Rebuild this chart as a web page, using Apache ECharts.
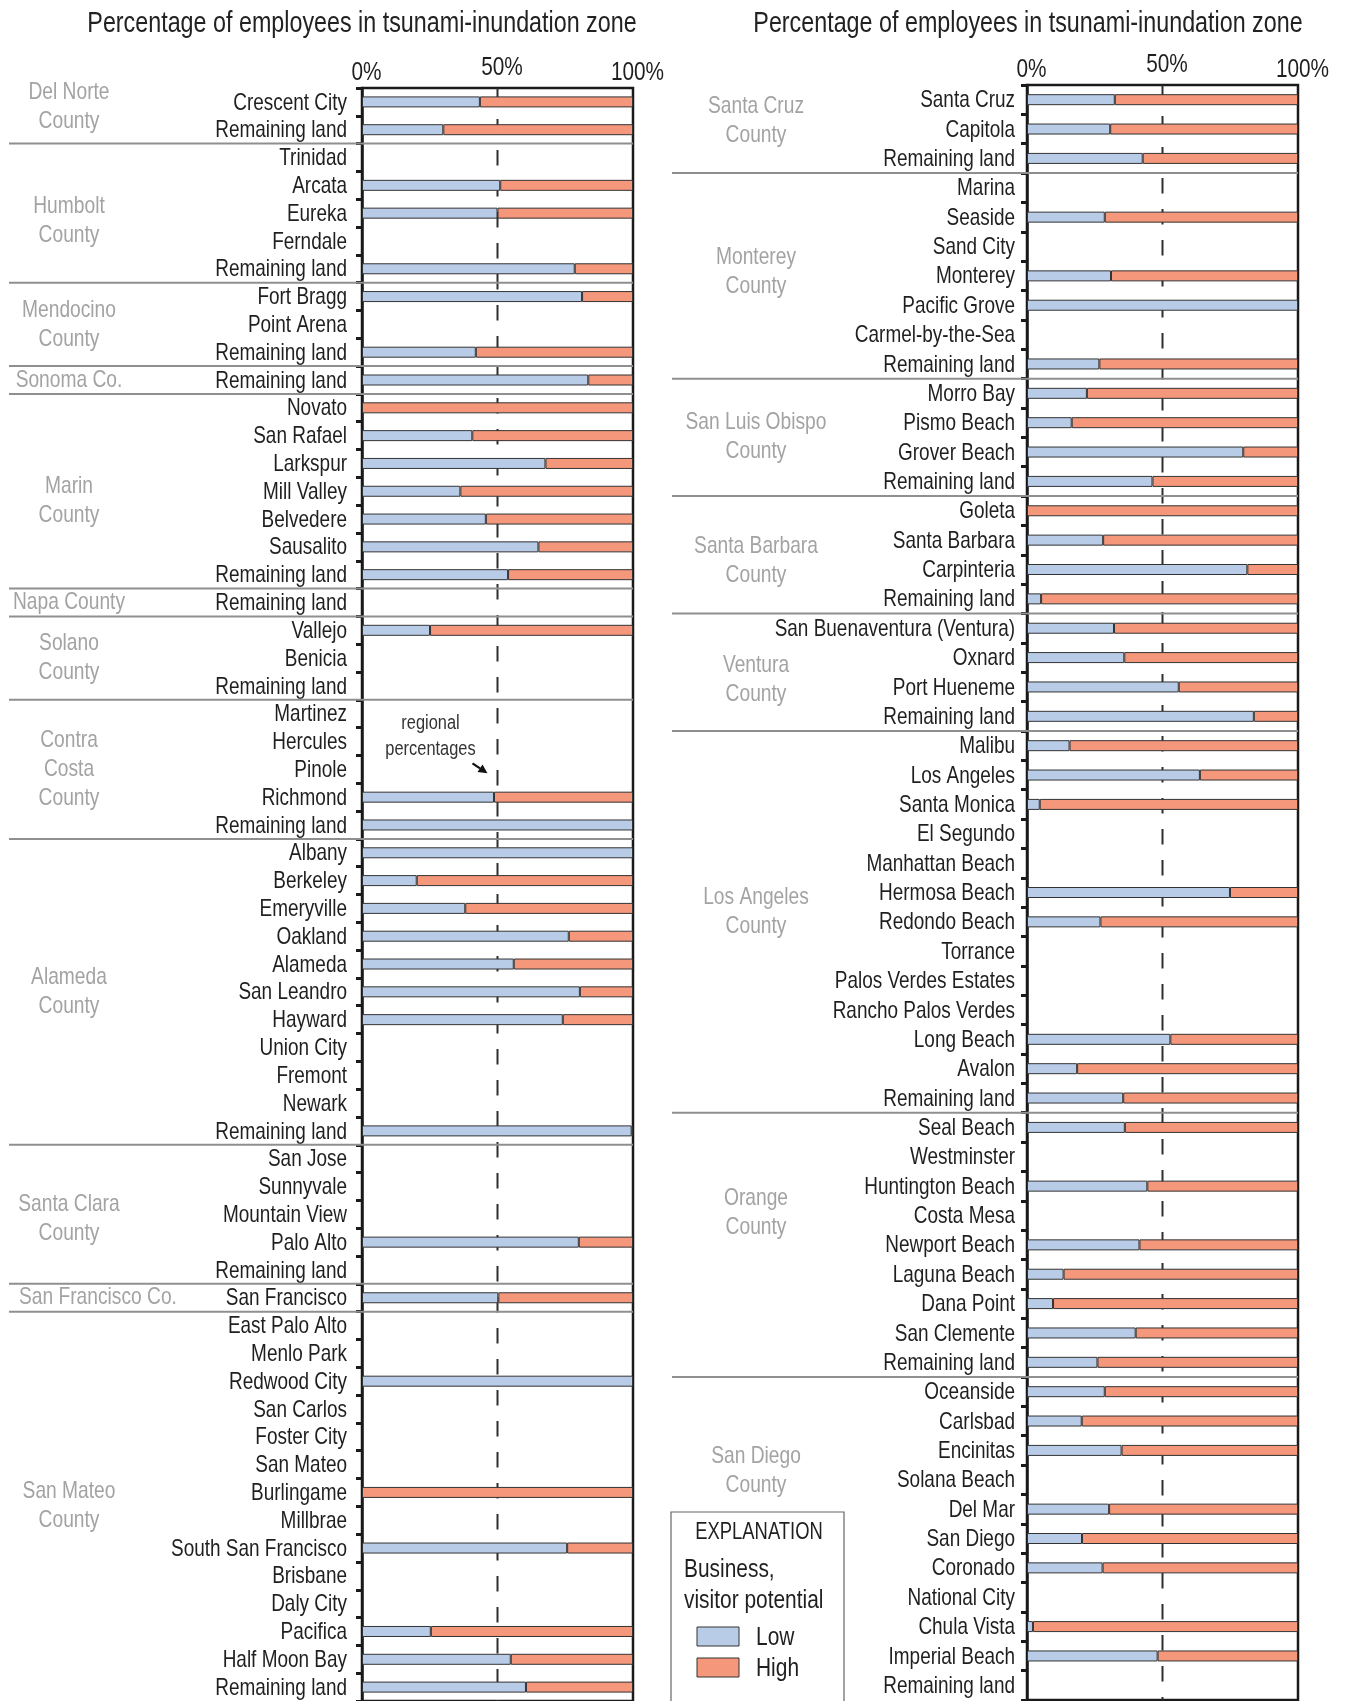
<!DOCTYPE html>
<html>
<head>
<meta charset="utf-8">
<title>Percentage of employees in tsunami-inundation zone</title>
<script src="https://cdn.jsdelivr.net/npm/echarts@6/dist/echarts.min.js"></script>
<style>
  html, body { margin: 0; padding: 0; background: #ffffff; }
  #chart { width: 1347px; height: 1701px; }
</style>
</head>
<body>
<div id="chart"></div>
<script>
// ---------- data: northern coast (Del Norte to San Mateo) ----------
const northCounties = ['Del Norte\nCounty', 'Humbolt\nCounty', 'Mendocino\nCounty', 'Sonoma Co.', 'Marin\nCounty',
  'Napa County', 'Solano\nCounty', 'Contra\nCosta\nCounty', 'Alameda\nCounty', 'Santa Clara\nCounty',
  'San Francisco Co.', 'San Mateo\nCounty'];
const northCountySizes = [2, 5, 3, 1, 7, 1, 3, 5, 11, 5, 1, 14];
const northPlaces = ['Crescent City', 'Remaining land', 'Trinidad', 'Arcata', 'Eureka', 'Ferndale', 'Remaining land',
  'Fort Bragg', 'Point Arena', 'Remaining land', 'Remaining land', 'Novato', 'San Rafael', 'Larkspur', 'Mill Valley',
  'Belvedere', 'Sausalito', 'Remaining land', 'Remaining land', 'Vallejo', 'Benicia', 'Remaining land', 'Martinez',
  'Hercules', 'Pinole', 'Richmond', 'Remaining land', 'Albany', 'Berkeley', 'Emeryville', 'Oakland', 'Alameda',
  'San Leandro', 'Hayward', 'Union City', 'Fremont', 'Newark', 'Remaining land', 'San Jose', 'Sunnyvale',
  'Mountain View', 'Palo Alto', 'Remaining land', 'San Francisco', 'East Palo Alto', 'Menlo Park', 'Redwood City',
  'San Carlos', 'Foster City', 'San Mateo', 'Burlingame', 'Millbrae', 'South San Francisco', 'Brisbane', 'Daly City',
  'Pacifica', 'Half Moon Bay', 'Remaining land'];
// percent of employees in low / high business-visitor-potential areas (null = no employees in zone)
const northLow = [43.5, 30, null, 51, 50, null, 78.5, 81.2, null, 42, 83.5, 0, 40.7, 67.7, 36.3, 45.7, 65.1, 53.9,
  null, 25.1, null, null, null, null, null, 48.7, 100, 100, 20.2, 38.1, 76.3, 56, 80.4, 74.1, null, null, null, 99.5,
  null, null, null, 80, null, 50.3, null, null, 100, null, null, null, 0, null, 75.7, null, null, 25.4, 54.9, 60.5];
const northHigh = [56.5, 70, null, 49, 50, null, 21.5, 18.8, null, 58, 16.5, 100, 59.3, 32.3, 63.7, 54.3, 34.9, 46.1,
  null, 74.9, null, null, null, null, null, 51.3, 0, 0, 79.8, 61.9, 23.7, 44, 19.6, 25.9, null, null, null, 0.5,
  null, null, null, 20, null, 49.7, null, null, 0, null, null, null, 100, null, 24.3, null, null, 74.6, 45.1, 39.5];

// ---------- data: southern coast (Santa Cruz to San Diego) ----------
const southCounties = ['Santa Cruz\nCounty', 'Monterey\nCounty', 'San Luis Obispo\nCounty', 'Santa Barbara\nCounty',
  'Ventura\nCounty', 'Los Angeles\nCounty', 'Orange\nCounty', 'San Diego\nCounty'];
const southCountySizes = [3, 7, 4, 4, 4, 13, 9, 11];
const southPlaces = ['Santa Cruz', 'Capitola', 'Remaining land', 'Marina', 'Seaside', 'Sand City', 'Monterey',
  'Pacific Grove', 'Carmel-by-the-Sea', 'Remaining land', 'Morro Bay', 'Pismo Beach', 'Grover Beach', 'Remaining land',
  'Goleta', 'Santa Barbara', 'Carpinteria', 'Remaining land', 'San Buenaventura (Ventura)', 'Oxnard', 'Port Hueneme',
  'Remaining land', 'Malibu', 'Los Angeles', 'Santa Monica', 'El Segundo', 'Manhattan Beach', 'Hermosa Beach',
  'Redondo Beach', 'Torrance', 'Palos Verdes Estates', 'Rancho Palos Verdes', 'Long Beach', 'Avalon', 'Remaining land',
  'Seal Beach', 'Westminster', 'Huntington Beach', 'Costa Mesa', 'Newport Beach', 'Laguna Beach', 'Dana Point',
  'San Clemente', 'Remaining land', 'Oceanside', 'Carlsbad', 'Encinitas', 'Solana Beach', 'Del Mar', 'San Diego',
  'Coronado', 'National City', 'Chula Vista', 'Imperial Beach', 'Remaining land'];
const southLow = [32.4, 30.7, 42.7, null, 28.7, null, 31, 100, null, 26.7, 22.1, 16.5, 79.8, 46.3, 0, 28.1, 81.3, 5.2,
  32.1, 35.9, 56, 83.7, 15.7, 63.8, 4.7, null, null, 74.9, 27.1, null, null, null, 52.9, 18.5, 35.5, 36.1, null, 44.4,
  null, 41.5, 13.5, 9.6, 40.1, 26, 28.7, 20.2, 34.9, null, 30.3, 20.3, 27.9, null, 2.2, 48.2, null];
const southHigh = [67.6, 69.3, 57.3, null, 71.3, null, 69, 0, null, 73.3, 77.9, 83.5, 20.2, 53.7, 100, 71.9, 18.7, 94.8,
  67.9, 64.1, 44, 16.3, 84.3, 36.2, 95.3, null, null, 25.1, 72.9, null, null, null, 47.1, 81.5, 64.5, 63.9, null, 55.6,
  null, 58.5, 86.5, 90.4, 59.9, 74, 71.3, 79.8, 65.1, null, 69.7, 79.7, 72.1, null, 97.8, 51.8, null];

// regional percentages (dashed reference line) and axis ticks
const regionalPercent = [50, 50];
const axisTickValues = [0, 50, 100];
const seriesNames = ['Low', 'High'];
const titleText = 'Percentage of employees in tsunami-inundation zone';
const legendHeading = 'EXPLANATION';
const legendSubheading = ['Business,', 'visitor potential'];

// ---------- styling ----------
// Condensed look: a regular sans face squeezed horizontally.
const FONT = "'Liberation Sans', Arial, sans-serif";
const SQUEEZE = 0.79;
const INK = '#1f1f1f';
const LOW_COLOR = '#b8cce8';
const HIGH_COLOR = '#f4977a';
const BAR_EDGE = '#333333';
const COUNTY_INK = '#a3a3a3';
const RULE_COLOR = '#8f8f8f';

function squeezedText(x, y, text, size, opts) {
  opts = opts || {};
  return {
    type: 'text', x: x, y: y, scaleX: opts.squeeze || SQUEEZE, z: opts.z,
    style: {
      text: text, fill: opts.fill || INK, fontFamily: FONT, fontSize: size,
      lineHeight: opts.lineHeight, align: opts.align || 'left', verticalAlign: opts.verticalAlign || 'middle'
    }
  };
}

const panels = [
  {
    counties: northCounties, sizes: northCountySizes, places: northPlaces, low: northLow, high: northHigh,
    grid: { left: 362, top: 88, width: 271, height: 1615 },
    countyX: 69, ruleStart: 9, titleX: 362, labelGap: 15,
    nudge: { 'Del Norte\nCounty': -9, 'Humbolt\nCounty': 8, 'Marin\nCounty': 10, 'Santa Clara\nCounty': 5 },
    leftAligned: { 'San Francisco Co.': 19 }
  },
  {
    counties: southCounties, sizes: southCountySizes, places: southPlaces, low: southLow, high: southHigh,
    grid: { left: 1027, top: 85, width: 271, height: 1615 },
    countyX: 756, ruleStart: 672, titleX: 1028, labelGap: 12,
    nudge: { 'Santa Cruz\nCounty': -8, 'Monterey\nCounty': -4, 'Santa Barbara\nCounty': 6, 'Ventura\nCounty': 8,
      'Los Angeles\nCounty': -10, 'Orange\nCounty': -32, 'San Diego\nCounty': -68 },
    leftAligned: {}
  }
];

function toBar(v) { return (v === null || v === 0) ? '-' : v; }

// county spans: [firstRow, lastRow, countyIndex]
function countySpans(sizes) {
  const spans = [];
  let start = 0;
  sizes.forEach((n, k) => { spans.push([start, start + n - 1, k]); start += n; });
  return spans;
}

const grids = [], xAxes = [], yAxes = [], series = [];

panels.forEach((p, i) => {
  grids.push(Object.assign({ show: true, borderColor: '#1a1a1a', borderWidth: 2.5, backgroundColor: 'transparent' }, p.grid));

  xAxes.push({
    gridIndex: i, type: 'value', position: 'top', min: axisTickValues[0],
    max: axisTickValues[axisTickValues.length - 1], interval: axisTickValues[1] - axisTickValues[0],
    axisLine: { show: false }, axisTick: { show: false }, splitLine: { show: false },
    axisLabel: { show: false }
  });

  yAxes.push({
    gridIndex: i, type: 'category', inverse: true, data: p.places,
    axisLine: { show: true, lineStyle: { color: '#1a1a1a', width: 2.5 } },
    axisTick: { show: true, length: 6, lineStyle: { color: '#1a1a1a', width: 3 } },
    splitLine: { show: false },
    axisLabel: { show: false }
  });

  // dashed regional-percentage line, behind the bars
  series.push({
    type: 'custom', name: 'regional', xAxisIndex: i, yAxisIndex: i, z: 1, silent: true,
    data: [[regionalPercent[i], 0]],
    renderItem: (params, api) => {
      const cs = params.coordSys;
      const x = api.coord([api.value(0), 0])[0];
      return {
        type: 'line',
        shape: { x1: x, y1: cs.y, x2: x, y2: cs.y + cs.height },
        style: { stroke: '#2e2e2e', lineWidth: 2, lineDash: [15.5, 15.5] }
      };
    }
  });

  // stacked bars
  series.push({
    type: 'bar', name: seriesNames[0], xAxisIndex: i, yAxisIndex: i, stack: 'share' + i, barWidth: 11, z: 2,
    itemStyle: { color: LOW_COLOR, borderColor: BAR_EDGE, borderWidth: 1 },
    emphasis: { disabled: true },
    data: p.low.map(toBar)
  });
  series.push({
    type: 'bar', name: seriesNames[1], xAxisIndex: i, yAxisIndex: i, stack: 'share' + i, barWidth: 11, z: 2,
    itemStyle: { color: HIGH_COLOR, borderColor: BAR_EDGE, borderWidth: 1 },
    emphasis: { disabled: true },
    data: p.high.map(toBar)
  });

  // place names beside the category axis
  series.push({
    type: 'custom', name: 'places', xAxisIndex: i, yAxisIndex: i, z: 3, silent: true,
    data: p.places.map((_, idx) => [0, idx]),
    renderItem: (params, api) => {
      const y = api.coord([0, api.value(1)])[1] + 1;
      return squeezedText(params.coordSys.x - p.labelGap, y, p.places[params.dataIndex], 24, { align: 'right' });
    }
  });

  // percentage tick labels above the plot
  series.push({
    type: 'custom', name: 'ticks', xAxisIndex: i, yAxisIndex: i, z: 3, silent: true,
    data: axisTickValues.map(v => [v, 0]),
    renderItem: (params, api) => {
      const v = api.value(0);
      const x = api.coord([v, 0])[0] + 4.5;
      const lift = params.dataIndex === 1 ? 20.5 : 15.5;
      return squeezedText(x, params.coordSys.y - lift, v + '%', 26, { align: 'center', squeeze: 0.8 });
    }
  });

  const spans = countySpans(p.sizes);

  // county separator rules
  series.push({
    type: 'custom', name: 'rules', xAxisIndex: i, yAxisIndex: i, z: 3, silent: true,
    data: spans.slice(1).map(s => [0, s[0]]),
    renderItem: (params, api) => {
      const cs = params.coordSys;
      const band = api.size([0, 1])[1];
      const y = api.coord([0, api.value(1)])[1] - band / 2;
      return {
        type: 'line',
        shape: { x1: p.ruleStart, y1: y, x2: cs.x + cs.width, y2: y },
        style: { stroke: RULE_COLOR, lineWidth: 2 }
      };
    }
  });

  // county names
  series.push({
    type: 'custom', name: 'counties', xAxisIndex: i, yAxisIndex: i, z: 3, silent: true,
    data: spans,
    renderItem: (params, api) => {
      const name = p.counties[api.value(2)];
      const y = (api.coord([0, api.value(0)])[1] + api.coord([0, api.value(1)])[1]) / 2 + (p.nudge[name] || 0);
      const leftX = p.leftAligned[name];
      return squeezedText(leftX !== undefined ? leftX : p.countyX, y, name, 24, {
        fill: COUNTY_INK, lineHeight: 29, squeeze: 0.8, align: leftX !== undefined ? 'left' : 'center'
      });
    }
  });
});

// "regional percentages" note with arrow pointing at the dashed line
const noteRow = northPlaces.indexOf('Pinole');
series.push({
  type: 'custom', name: 'note', xAxisIndex: 0, yAxisIndex: 0, z: 4, silent: true,
  data: [[regionalPercent[0], noteRow]],
  renderItem: (params, api) => {
    const c = api.coord([api.value(0), api.value(1)]);
    const x0 = c[0] - 25, y0 = c[1] - 6, x1 = c[0] - 10, y1 = c[1] + 4;
    const dx = x1 - x0, dy = y1 - y0, len = Math.hypot(dx, dy);
    const ux = dx / len, uy = dy / len, head = 9, half = 4.5;
    const bx = x1 - ux * head, by = y1 - uy * head;
    const noteOpts = { fill: '#333333', align: 'center', squeeze: 0.8 };
    return {
      type: 'group',
      children: [
        squeezedText(c[0] - 67, c[1] - 46, 'regional', 20.5, noteOpts),
        squeezedText(c[0] - 67, c[1] - 20, 'percentages', 20.5, noteOpts),
        { type: 'line', shape: { x1: x0, y1: y0, x2: bx, y2: by }, style: { stroke: '#111111', lineWidth: 2.2 } },
        {
          type: 'polygon',
          shape: { points: [[x1, y1], [bx - uy * half, by + ux * half], [bx + uy * half, by - ux * half]] },
          style: { fill: '#111111' }
        }
      ]
    };
  }
});

// explanation box
const legendColors = [LOW_COLOR, HIGH_COLOR];
const graphics = [
  squeezedText(panels[0].titleX, 24, titleText, 29.5, { align: 'center', fill: '#222222', z: 5 }),
  squeezedText(panels[1].titleX, 24, titleText, 29.5, { align: 'center', fill: '#222222', z: 5 }),
  {
    type: 'rect', z: 0, shape: { x: 671, y: 1512, width: 173, height: 220 },
    style: { fill: '#ffffff', stroke: '#666666', lineWidth: 1.2 }
  },
  squeezedText(759, 1533, legendHeading, 23, { align: 'center', squeeze: 0.8, z: 5 }),
  squeezedText(684, 1570, legendSubheading[0], 25.5, { squeeze: 0.82, z: 5 }),
  squeezedText(684, 1601, legendSubheading[1], 25.5, { squeeze: 0.82, z: 5 })
];
seriesNames.forEach((name, k) => {
  const top = 1627 + k * 31;
  graphics.push({
    type: 'rect', z: 5, shape: { x: 697, y: top, width: 42, height: 19 },
    style: { fill: legendColors[k], stroke: BAR_EDGE, lineWidth: 1 }
  });
  graphics.push(squeezedText(756, top + 10.5, name, 25.5, { squeeze: 0.82, z: 5 }));
});

const chart = echarts.init(document.getElementById('chart'), null, { renderer: 'canvas' });
chart.setOption({
  backgroundColor: '#ffffff',
  animation: false,
  textStyle: { fontFamily: FONT },
  grid: grids,
  xAxis: xAxes,
  yAxis: yAxes,
  series: series,
  graphic: graphics
});
</script>
</body>
</html>
